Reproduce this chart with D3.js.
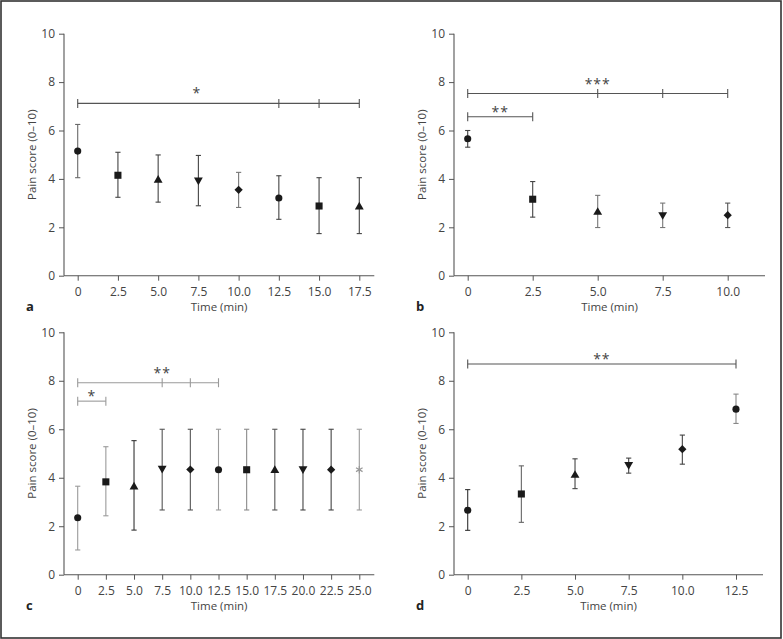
<!DOCTYPE html>
<html><head><meta charset="utf-8">
<script src="https://cdn.jsdelivr.net/npm/d3@7"></script>
<style>
html,body{margin:0;padding:0;background:#fff;}
svg{display:block;}
text{font-family:"Open Sans","Noto Sans",sans-serif;}
</style></head>
<body>
<svg id="chart" width="783" height="639"></svg>
<script>
// ---------- data ----------
const timeA = [0, 2.5, 5, 7.5, 10, 12.5, 15, 17.5];
const meanA = [5.15, 4.15, 3.95, 3.95, 3.55, 3.21, 2.88, 2.84];
const upA   = [6.25, 5.10, 4.99, 4.97, 4.27, 4.13, 4.05, 4.05];
const loA   = [4.05, 3.24, 3.04, 2.89, 2.82, 2.33, 1.74, 1.74];
const shapeA = ["circle","square","triangle","down","diamond","circle","square","triangle"];

const timeB = [0, 2.5, 5, 7.5, 10];
const meanB = [5.66, 3.16, 2.62, 2.52, 2.50];
const upB   = [6.00, 3.89, 3.32, 3.00, 3.00];
const loB   = [5.31, 2.42, 1.99, 1.99, 1.99];
const shapeB = ["circle","square","triangle","down","diamond"];

const timeC = [0, 2.5, 5, 7.5, 10, 12.5, 15, 17.5, 20, 22.5, 25];
const meanC = [2.35, 3.83, 3.62, 4.39, 4.34, 4.33, 4.33, 4.30, 4.37, 4.33, 4.33];
const upC   = [3.65, 5.28, 5.53, 6.00, 6.00, 6.00, 6.00, 6.00, 6.00, 6.00, 6.00];
const loC   = [1.02, 2.43, 1.84, 2.67, 2.67, 2.67, 2.67, 2.67, 2.67, 2.67, 2.67];
const shapeC = ["circle","square","triangle","down","diamond","circle","square","triangle","down","diamond","star"];

const timeD = [0, 2.5, 5, 7.5, 10, 12.5];
const meanD = [2.66, 3.33, 4.10, 4.54, 5.18, 6.83];
const upD   = [3.51, 4.49, 4.78, 4.81, 5.76, 7.45];
const loD   = [1.83, 2.16, 3.55, 4.19, 4.56, 6.24];
const shapeD = ["circle","square","triangle","down","diamond","circle"];

// significance brackets: level (pain score), span, inner ticks, label, label position (min)
const sigA = [{level: 7.12, from: 0, to: 17.5, marks: [0, 12.5, 15, 17.5], label: "*", at: 7.4}];
const sigB = [{level: 7.53, from: 0, to: 10, marks: [0, 5, 7.5, 10], label: "***", at: 5.0},
              {level: 6.57, from: 0, to: 2.5, marks: [0, 2.5], label: "**", at: 1.25}];
const sigC = [{level: 7.92, from: 0, to: 12.5, marks: [0, 7.5, 10, 12.5], label: "**", at: 7.5},
              {level: 7.16, from: 0, to: 2.5, marks: [0, 2.5], label: "*", at: 1.25}];
const sigD = [{level: 8.69, from: 0, to: 12.5, marks: [0, 12.5], label: "**", at: 6.25}];

const yTicks = [0, 2, 4, 6, 8, 10];
const panelLetters = ["a", "b", "c", "d"];
const xTitle = "Time (min)";
const yTitle = "Pain score (0–10)";

// ---------- styles / layout ----------
const shadeA = ["#6a6a6a","#444","#444","#444","#777","#444","#444","#444"];
const shadeB = ["#444","#444","#777","#777","#555"];
const shadeC = ["#9a9a9a","#9a9a9a","#333","#555","#555","#9a9a9a","#8a8a8a","#555","#444","#444","#9a9a9a"];
const shadeD = ["#333","#666","#444","#444","#444","#888"];
const sigShade = ["#555", "#555", "#9a9a9a", "#555"];
const sigLift = [[13.4], [12.3, 7.3], [12, 7.7], [7.6]];

const layout = [
  {yAxisX: 64,  xr: [77.7, 359.3], xEnd: 374.3, yr: [275.7, 33.7]},
  {yAxisX: 454, xr: [467.7, 727.7], xEnd: 765, yr: [275.7, 33.7]},
  {yAxisX: 64,  xr: [77.7, 359.3], xEnd: 374.3, yr: [574.7, 332.3]},
  {yAxisX: 454, xr: [467.7, 736.0], xEnd: 763, yr: [574.7, 332.3]}
];

const panels = [
  {t: timeA, m: meanA, up: upA, lo: loA, sh: shapeA, shade: shadeA, sig: sigA},
  {t: timeB, m: meanB, up: upB, lo: loB, sh: shapeB, shade: shadeB, sig: sigB},
  {t: timeC, m: meanC, up: upC, lo: loC, sh: shapeC, shade: shadeC, sig: sigC},
  {t: timeD, m: meanD, up: upD, lo: loD, sh: shapeD, shade: shadeD, sig: sigD}
];

const svg = d3.select("#chart");
const axisColor = "#555";
const textColor = "#444";

// outer frame
svg.append("rect").attr("x", 1).attr("y", 1).attr("width", 780).attr("height", 637)
  .attr("fill", "none").attr("stroke", "#333").attr("stroke-width", 1.6);

const symbolFor = {
  circle: d3.symbol().type(d3.symbolCircle).size(40),
  square: d3.symbol().type(d3.symbolSquare).size(50),
  triangle: d3.symbol().type(d3.symbolTriangle).size(34),
  down: d3.symbol().type(d3.symbolTriangle).size(34),
  diamond: d3.symbol().type(d3.symbolSquare).size(34),
  star: d3.symbol().type(d3.symbolAsterisk).size(40)
};
const rotFor = {down: 180, diamond: 45};

const fmtX = d => d === 0 ? "0" : d3.format(".1f")(d);

panels.forEach((p, i) => {
  const L = layout[i];
  const last = p.t[p.t.length - 1];
  const x = d3.scaleLinear().domain([0, last]).range(L.xr);
  const y = d3.scaleLinear().domain([0, 10]).range(L.yr);
  const g = svg.append("g");

  // y axis
  const ya = g.append("g").attr("transform", `translate(${L.yAxisX},0)`)
    .call(d3.axisLeft(y).tickValues(yTicks).tickSize(5).tickPadding(4).tickFormat(d3.format("d")));
  ya.select(".domain").remove();
  ya.selectAll(".tick line").attr("stroke", axisColor);
  ya.selectAll(".tick text").attr("fill", textColor).style("font-size", "12px").style("font-family", '"Open Sans",sans-serif');
  g.append("line").attr("x1", L.yAxisX).attr("x2", L.yAxisX).attr("y1", y(10)).attr("y2", y(0))
    .attr("stroke", axisColor).attr("stroke-width", 1.1);

  // x axis
  const xa = g.append("g").attr("transform", `translate(0,${y(0)})`)
    .call(d3.axisBottom(x).tickValues(p.t).tickSize(5).tickPadding(7).tickFormat(fmtX));
  xa.select(".domain").remove();
  xa.selectAll(".tick line").attr("stroke", axisColor);
  xa.selectAll(".tick text").attr("fill", textColor).style("font-size", "12px").style("font-family", '"Open Sans",sans-serif');
  g.append("line").attr("x1", L.yAxisX).attr("x2", L.xEnd).attr("y1", y(0)).attr("y2", y(0))
    .attr("stroke", axisColor).attr("stroke-width", 1.1);

  // titles
  const xMid = (L.yAxisX + L.xEnd) / 2;
  g.append("text").attr("x", xMid).attr("y", y(0) + 35).attr("text-anchor", "middle")
    .attr("fill", textColor).style("font-size", "11.5px").text(xTitle);
  const yMid = (y(0) + y(10)) / 2;
  g.append("text").attr("transform", `translate(${L.yAxisX - 28},${yMid}) rotate(-90)`)
    .attr("text-anchor", "middle").attr("fill", textColor).style("font-size", "11.5px").text(yTitle);
  g.append("text").attr("x", L.yAxisX - 38).attr("y", y(0) + 35).attr("fill", "#222")
    .style("font-size", "13px").style("font-weight", "bold").text(panelLetters[i]);

  // significance brackets
  p.sig.forEach((s, k) => {
    const col = sigShade[i];
    const yy = y(s.level);
    g.append("line").attr("x1", x(s.from)).attr("x2", x(s.to)).attr("y1", yy).attr("y2", yy)
      .attr("stroke", col).attr("stroke-width", 1.1);
    g.selectAll(null).data(s.marks).enter().append("line")
      .attr("x1", d => x(d)).attr("x2", d => x(d)).attr("y1", yy - 4.5).attr("y2", yy + 4.5)
      .attr("stroke", col).attr("stroke-width", 1.1);
    g.append("text").attr("x", x(s.at)).attr("y", yy - sigLift[i][k] + 7.6)
      .attr("text-anchor", "middle").attr("fill", "#444").style("font-size", "14px")
      .style("letter-spacing", "1px").text(s.label);
  });

  // error bars
  const idx = d3.range(p.t.length);
  idx.forEach(j => {
    const col = p.shade[j];
    const cx = x(p.t[j]);
    g.append("line").attr("x1", cx).attr("x2", cx).attr("y1", y(p.up[j])).attr("y2", y(p.lo[j]))
      .attr("stroke", col).attr("stroke-width", 1.1);
    [p.up[j], p.lo[j]].forEach(v => {
      g.append("line").attr("x1", cx - 2.6).attr("x2", cx + 2.6).attr("y1", y(v)).attr("y2", y(v))
        .attr("stroke", col).attr("stroke-width", 1.1);
    });
  });

  // markers
  g.selectAll("path.mk").data(idx).enter().append("path").attr("class", "mk")
    .attr("d", j => symbolFor[p.sh[j]]())
    .attr("transform", j => `translate(${x(p.t[j])},${y(p.m[j])}) rotate(${rotFor[p.sh[j]] || 0})`)
    .attr("fill", j => p.sh[j] === "star" ? "none" : "#1a1a1a")
    .attr("stroke", j => p.sh[j] === "star" ? "#999" : "none")
    .attr("stroke-width", 1.2);
});
</script>
</body></html>
